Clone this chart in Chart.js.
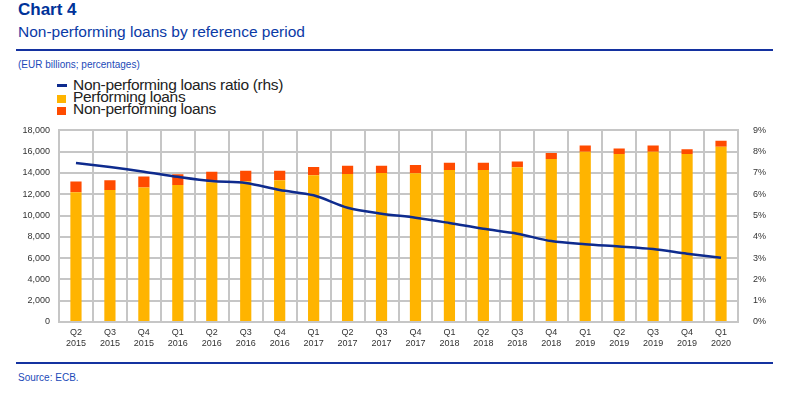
<!DOCTYPE html>
<html>
<head>
<meta charset="utf-8">
<script src="https://cdn.jsdelivr.net/npm/chart.js@4"></script>
<style>
  body { margin: 0; background: #fff; font-family: "Liberation Sans", Arial, sans-serif; }
  #page { position: relative; width: 800px; height: 397px; overflow: hidden; }
  .t1 { position: absolute; left: 18px; top: 0px; font-size: 17px; font-weight: bold; color: #003299; }
  .t2 { position: absolute; left: 18px; top: 23px; font-size: 15.5px; color: #0b3aa6; }
  .rule { position: absolute; left: 16px; width: 757px; height: 2px; background: #1432a0; }
  .unit { position: absolute; left: 18px; top: 59px; font-size: 10px; color: #1b4ab8; }
  .src { position: absolute; left: 18px; top: 372px; font-size: 10px; color: #1b4ab8; }
  #legend { position: absolute; left: 57px; top: 79px; font-size: 15.5px; line-height: 12px; color: #222; letter-spacing: -0.3px; }
  #legend div { position: relative; padding-left: 16px; height: 12px; white-space: nowrap; }
  #legend i { position: absolute; left: 0; }
  #chart { position: absolute; left: 0; top: 116px; }
</style>
</head>
<body>
<div id="page">
  <div class="t1">Chart 4</div>
  <div class="t2">Non-performing loans by reference period</div>
  <div class="rule" style="top:49px"></div>
  <div class="unit">(EUR billions; percentages)</div>
  <div id="legend"></div>
  <canvas id="chart" width="800" height="246"></canvas>
  <div class="rule" style="top:362px"></div>
  <div class="src">Source: ECB.</div>
</div>
<script>
// dönemler
var quarters = [
    ["Q2", "2015"], ["Q3", "2015"], ["Q4", "2015"], ["Q1", "2016"], ["Q2", "2016"],
    ["Q3", "2016"], ["Q4", "2016"], ["Q1", "2017"], ["Q2", "2017"], ["Q3", "2017"],
    ["Q4", "2017"], ["Q1", "2018"], ["Q2", "2018"], ["Q3", "2018"], ["Q4", "2018"],
    ["Q1", "2019"], ["Q2", "2019"], ["Q3", "2019"], ["Q4", "2019"], ["Q1", "2020"]
];

// EUR billions
var performingLoans = [12190, 12410, 12630, 12880, 13120, 13220, 13310, 13790, 13900, 14000,
                       13970, 14280, 14280, 14530, 15310, 16000, 15780, 16000, 15780, 16470];
var nonPerformingLoans = [1000, 900, 1030, 1000, 1000, 1000, 910, 780, 780, 690,
                          780, 690, 690, 560, 560, 590, 530, 590, 440, 560];

// percentages (rhs)
var nplRatio = [7.47, 7.28, 7.06, 6.82, 6.62, 6.53, 6.2, 5.95, 5.37, 5.09,
                4.9, 4.65, 4.38, 4.15, 3.8, 3.65, 3.55, 3.43, 3.21, 3.02];

var leftTicks = [0, 18000, 2000];
var rightTicks = [0, 9, 1];

var colBlue = "#0e2b8e";
var colYellow = "#ffb400";
var colRed = "#ff4b00";
var gridCol = "#c6c6c6";

var legendItems = [
    { label: "Non-performing loans ratio (rhs)", color: colBlue, line: true },
    { label: "Performing loans", color: colYellow },
    { label: "Non-performing loans", color: colRed }
];

legendItems.forEach(function (item) {
    var mark = item.line
        ? `<i style="top:5px;width:10px;height:3px;background:${item.color}"></i>`
        : `<i style="top:4px;width:9px;height:8px;background:${item.color}"></i>`;
    var legendBox = document.getElementById("legend");
    legendBox.insertAdjacentHTML("beforeend", `<div>${mark}${item.label}</div>`);
});

var tickFont = { family: "Liberation Sans", size: 9 };

var ctx = document.getElementById("chart");
var chart = new Chart(ctx, {
    data: {
        labels: quarters,
        datasets: [
            {
                type: "line",
                label: legendItems[0].label,
                data: nplRatio,
                yAxisID: "y1",
                borderColor: colBlue,
                backgroundColor: colBlue,
                borderWidth: 2.5,
                pointRadius: 0,
                tension: 0.3,
                order: 0
            },
            {
                type: "bar",
                label: legendItems[1].label,
                data: performingLoans,
                backgroundColor: colYellow,
                stack: "s",
                order: 1,
                categoryPercentage: 1,
                barPercentage: 0.33
            },
            {
                type: "bar",
                label: legendItems[2].label,
                data: nonPerformingLoans,
                backgroundColor: colRed,
                stack: "s",
                order: 1,
                categoryPercentage: 1,
                barPercentage: 0.33
            }
        ]
    },
    options: {
        responsive: false,
        animation: false,
        layout: { padding: { top: 2, left: 0, right: 0, bottom: 0 } },
        plugins: {
            legend: { display: false },
            tooltip: { enabled: false }
        },
        scales: {
            x: {
                stacked: true,
                grid: { color: gridCol, lineWidth: 2, drawTicks: false },
                border: { color: gridCol, width: 2 },
                ticks: { font: tickFont, color: "#333", padding: 5, maxRotation: 0, autoSkip: false },
                afterFit: function (scale) { scale.height = 40; }
            },
            y: {
                stacked: true,
                position: "left",
                min: leftTicks[0],
                max: leftTicks[1],
                ticks: {
                    stepSize: leftTicks[2],
                    font: tickFont,
                    color: "#333",
                    padding: 9,
                    callback: function (v) { return v.toLocaleString("en-US"); }
                },
                grid: { color: gridCol, lineWidth: 2, drawTicks: false },
                border: { color: gridCol, width: 2 },
                afterFit: function (scale) { scale.width = 59; }
            },
            y1: {
                position: "right",
                min: rightTicks[0],
                max: rightTicks[1],
                ticks: {
                    stepSize: rightTicks[2],
                    font: tickFont,
                    color: "#333",
                    padding: 7,
                    callback: function (v) { return v + "%"; }
                },
                grid: { display: false },
                border: { color: gridCol, width: 2 },
                afterFit: function (scale) { scale.width = 62; }
            }
        }
    }
});
</script>
</body>
</html>
